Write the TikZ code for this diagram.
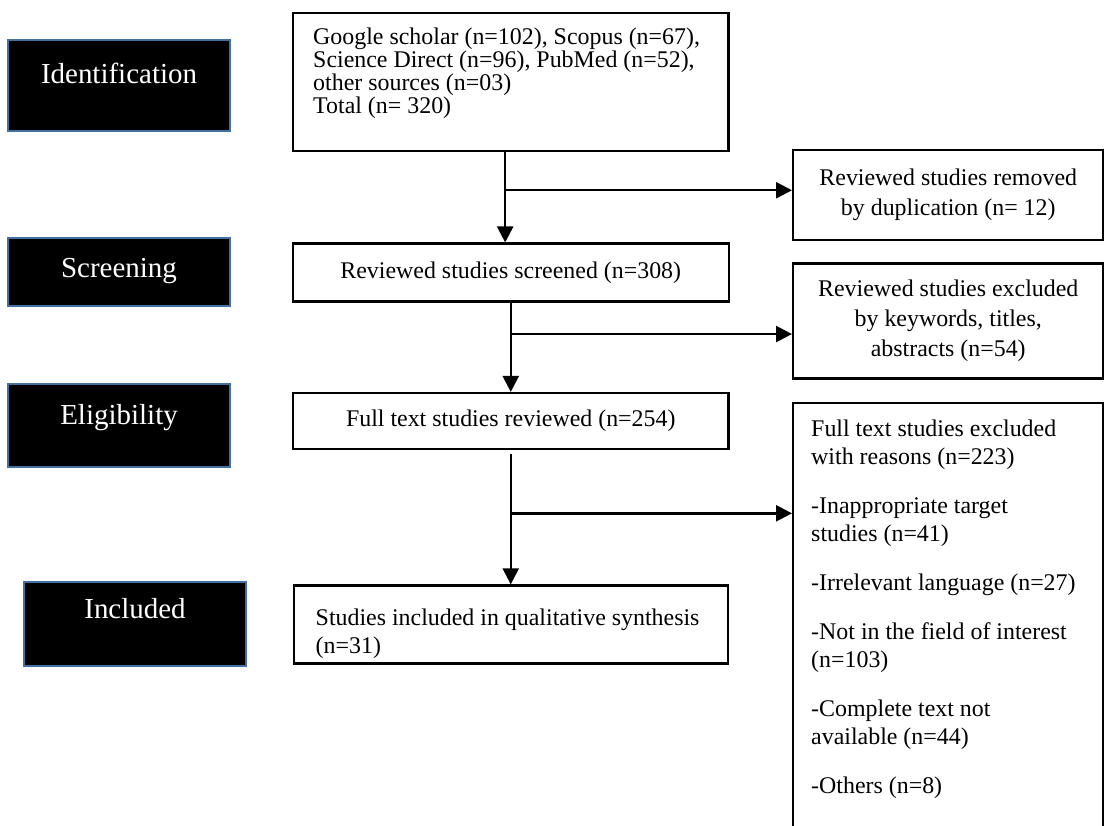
\documentclass[tikz,border=0pt]{standalone}
\usepackage{fontspec}
\setmainfont{Liberation Serif}
\usetikzlibrary{arrows.meta,positioning,calc}
\setlength{\lineskiplimit}{-100pt}
\definecolor{stageedge}{HTML}{41719C}
\tikzset{
  stagebox/.style={
    fill=black,
    draw=stageedge,
    line width=0.05cm,
    inner sep=0pt,
    minimum width=5.55cm,
    text=white,
    font=\fontsize{20.6}{24}\selectfont
  },
  flowbox/.style={
    draw=black,
    line width=0.06cm,
    inner sep=0pt,
    align=center,
    font=\fontsize{17}{21.3}\selectfont
  },
  flowarrow/.style={-{Triangle[length=0.4cm,width=0.4cm]}, line width=0.06cm, draw=black}
}

\begin{document}
\begin{tikzpicture}[x=0.025cm,y=-0.025cm]
      \useasboundingbox (0,0) rectangle (1104,825);
      \clip (0,0) rectangle (1104,825);
      % stage labels
      \node[stagebox,anchor=north west,text height=1.075cm,text depth=1.2cm] (ident) at (7,39) {Identification};
      \node[stagebox,anchor=north west,text height=0.975cm,text depth=0.725cm] (screenlbl) at (7,237) {Screening};
      \node[stagebox,anchor=north west,text height=1cm,text depth=1.075cm] (eliglbl) at (7,383) {Eligibility};
      \node[stagebox,anchor=north west,text height=0.9cm,text depth=1.2cm] (incllbl) at (23,581) {Included};
      % main column
      \node[flowbox,anchor=north west,align=flush left,text width=9.875cm,inner xsep=0.5cm,text height=0.775cm,text depth=2.675cm,
        font=\fontsize{17}{13.5}\selectfont] (src) at (292,12)
        {Google scholar (n=102), Scopus (n=67),\\Science Direct (n=96), PubMed (n=52),\\other sources (n=03)\\Total (n= 320)};
      \node[flowbox,below=2.25cm of src,minimum width=10.9cm,minimum height=1.45cm] (screen) {Reviewed studies screened (n=308)};
      \node[flowbox,below=2.225cm of screen,minimum width=10.875cm,minimum height=1.4cm] (full) {Full text studies reviewed (n=254)};
      \node[flowbox,below=3.35cm of full,align=flush left,text width=9.75cm,inner xsep=0.55cm,text height=1cm,text depth=0.95cm,
        font=\fontsize{17}{19.9}\selectfont] (incl)
        {Studies included in qualitative synthesis\\(n=31)};
      % side column
      \node[flowbox,anchor=north west,minimum width=7.75cm,minimum height=2.25cm] (dup) at (792,149) {Reviewed studies removed\\by duplication (n= 12)};
      \node[flowbox,below=0.52cm of dup,minimum width=7.75cm,minimum height=2.875cm] (excl) {Reviewed studies excluded\\by keywords, titles,\\abstracts (n=54)};
      \node[flowbox,below=0.55cm of excl,align=flush left,text width=6.85cm,inner xsep=0.45cm,text height=0.85cm,text depth=10.5cm,
        font=\fontsize{17}{19.9}\selectfont] (fullexcl)
        {Full text studies excluded\\with reasons (n=223)\\[0.525cm]
         -Inappropriate target\\studies (n=41)\\[0.525cm]
         \mbox{-Irrelevant language (n=27)}\\[0.525cm]
         -Not in the field of interest\\(n=103)\\[0.525cm]
         -Complete text not\\available (n=44)\\[0.525cm]
         -Others (n=8)};
      % connectors
      \draw[flowarrow] ([xshift=-0.14cm]src.south) coordinate (v1) -- (v1 |- screen.north);
      \coordinate (b1) at ($(v1)!0.42!(v1 |- screen.north)$);
      \draw[flowarrow] (b1) -- (b1 -| dup.west);
      \draw[flowarrow] (full.north |- screen.south) -- (full.north);
      \coordinate (b2) at ($(full.north |- screen.south)!0.35!(full.north)$);
      \draw[flowarrow] (b2) -- (b2 -| excl.west);
      \draw[flowarrow] ([yshift=-0.1cm]full.south) -- (full.south |- incl.north);
      \coordinate (b3) at ($(full.south)!0.47!(full.south |- incl.north)$);
      \draw[flowarrow] (b3) -- (b3 -| fullexcl.west);
    \end{tikzpicture}
\end{document}
